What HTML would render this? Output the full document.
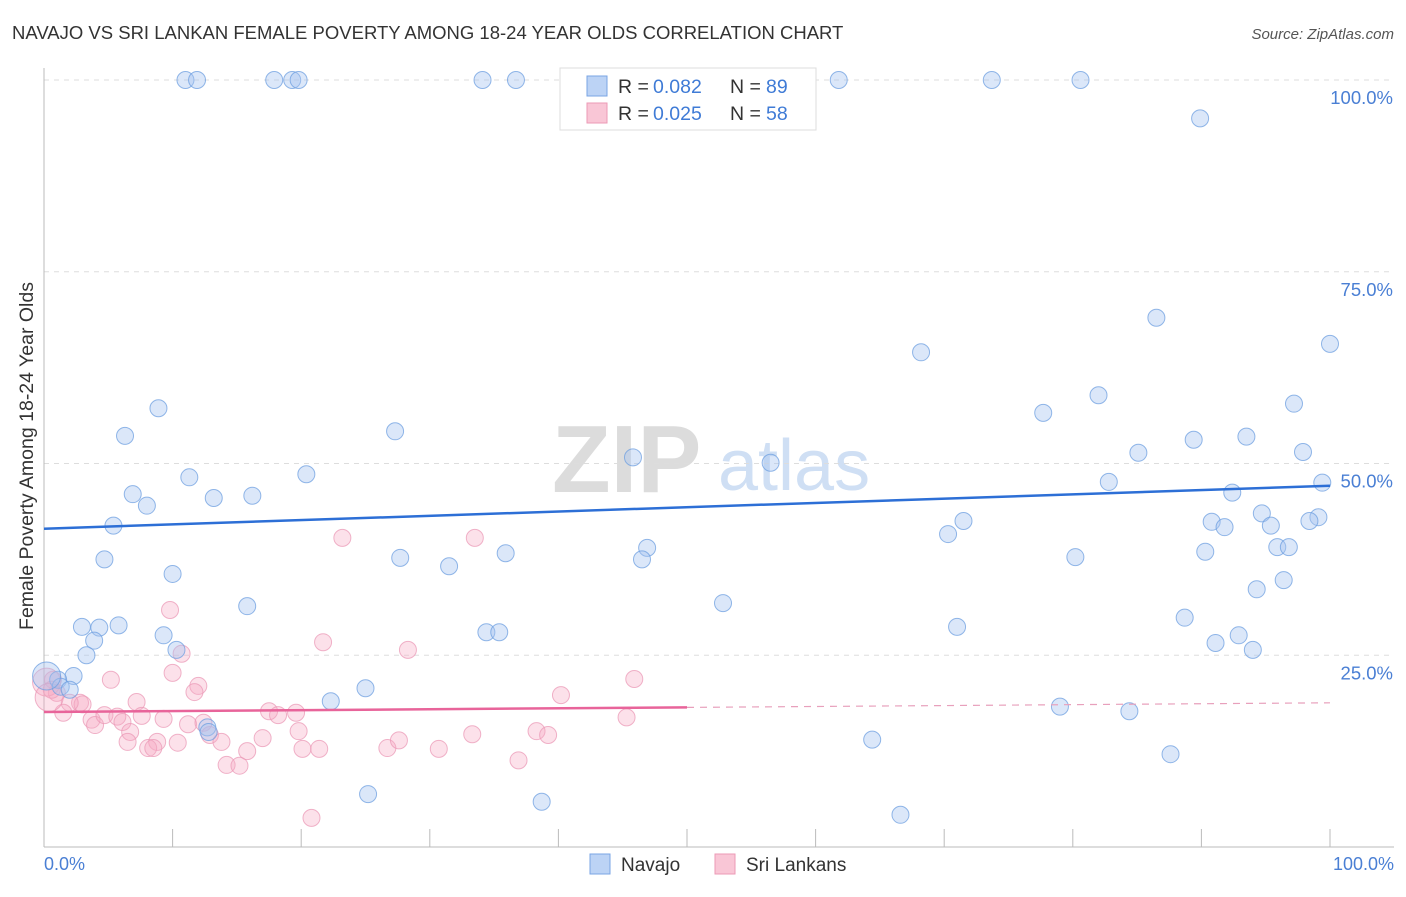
<!DOCTYPE html>
<html><head><meta charset="utf-8"><style>
body{margin:0;background:#fff;font-family:"Liberation Sans",sans-serif;}
svg text{font-family:"Liberation Sans",sans-serif;}
</style></head><body>
<svg id="chart" width="1406" height="892" xmlns="http://www.w3.org/2000/svg">
<text x="12" y="39" font-size="18.5" fill="#333">NAVAJO VS SRI LANKAN FEMALE POVERTY AMONG 18-24 YEAR OLDS CORRELATION CHART</text>
<text x="1394" y="39" font-size="15" fill="#555" text-anchor="end" font-style="italic">Source: ZipAtlas.com</text>
<g>
<text x="552" y="492" font-size="96" fill="#dcdcdc" font-family="Liberation Serif" font-weight="bold">ZIP</text>
<text x="718" y="490" font-size="72" fill="#cfdff4">atlas</text>
</g>
<g id="grid"></g>
<g id="pinkG"></g>
<g id="blueG"></g>
<g id="lines"></g>
<text x="27" y="456" font-size="19.5" fill="#333" transform="rotate(-90 27 456)" text-anchor="middle" dy="6">Female Poverty Among 18-24 Year Olds</text>
<text x="44" y="870" font-size="18" fill="#4a7fd4">0.0%</text>
<text x="1394" y="870" font-size="18" fill="#4a7fd4" text-anchor="end">100.0%</text>
<g>
<rect x="560" y="68" width="256" height="62" fill="#fff" stroke="#ddd"/>
<rect x="587" y="76" width="20" height="20" fill="#bcd3f5" stroke="#7aa5e4"/>
<rect x="587" y="103" width="20" height="20" fill="#f9c6d6" stroke="#ec9ab6"/>
<text x="618" y="93" font-size="19.5" fill="#333">R = </text>
<text x="653" y="93" font-size="19.5" fill="#3f7bd6">0.082</text>
<text x="730" y="93" font-size="19.5" fill="#333">N = </text>
<text x="766" y="93" font-size="19.5" fill="#3f7bd6">89</text>
<text x="618" y="120" font-size="19.5" fill="#333">R = </text>
<text x="653" y="120" font-size="19.5" fill="#3f7bd6">0.025</text>
<text x="730" y="120" font-size="19.5" fill="#333">N = </text>
<text x="766" y="120" font-size="19.5" fill="#3f7bd6">58</text>
</g>
<g>
<rect x="590" y="854" width="20" height="20" fill="#bcd3f5" stroke="#7aa5e4"/>
<text x="621" y="871" font-size="19" fill="#333">Navajo</text>
<rect x="715" y="854" width="20" height="20" fill="#f9c6d6" stroke="#ec9ab6"/>
<text x="746" y="871" font-size="19" fill="#333">Sri Lankans</text>
</g>
</svg>
<script>
const blueX=[11.0,11.9,17.9,19.3,19.8,34.1,36.7,61.8,73.7,80.6,89.9,86.5,100,68.2,77.7,82,97.2,8.9,6.3,27.3,89.4,93.5,85.1,97.9,45.8,56.5,20.4,11.3,82.8,99.4,6.9,13.2,16.2,8,92.4,94.7,71.5,90.8,91.8,95.4,99.1,98.4,5.4,70.3,95.9,96.8,46.9,35.9,90.3,80.2,27.7,4.7,46.5,31.5,10,96.4,94.3,15.8,52.8,88.7,2.95,4.3,5.8,71,9.3,34.4,35.4,92.9,3.9,91.1,10.3,94,3.3,2.3,1.1,1.3,2,22.3,25,79,84.4,12.7,12.8,64.4,87.6,25.2,38.7,66.6,0.2];
const blueY=[100,100,100,100,100,100,100,100,100,100,95.0,69.0,65.6,64.5,56.6,58.9,57.8,57.2,53.6,54.2,53.1,53.5,51.4,51.5,50.8,50.1,48.6,48.2,47.6,47.5,46.0,45.5,45.8,44.5,46.2,43.5,42.5,42.4,41.7,41.9,43.0,42.5,41.9,40.8,39.1,39.1,39.0,38.3,38.5,37.8,37.7,37.5,37.5,36.6,35.6,34.8,33.6,31.4,31.8,29.9,28.7,28.6,28.9,28.7,27.6,28.0,28.0,27.6,26.9,26.6,25.7,25.7,25.0,22.3,21.8,20.9,20.5,19.0,20.7,18.3,17.7,15.6,15.0,14.0,12.1,6.9,5.9,4.2,22.3];
const pinkX=[9.8,21.7,28.3,10.7,10,5.2,12,11.7,0.7,1.0,2.8,3.0,2.0,1.5,7.2,7.6,3.7,3.97,4.7,5.7,6.1,9.3,11.2,12.4,19.6,17.5,18.2,6.7,6.5,8.8,8.1,8.5,10.4,12.9,13.8,15.8,17,14.2,15.2,19.8,20.1,21.4,26.7,27.6,20.8,23.2,33.5,45.9,40.2,45.3,33.3,38.3,39.2,30.7,36.9,0.2,0.6,0.4];
const pinkY=[30.9,26.7,25.7,25.2,22.7,21.8,21.0,20.2,21.8,20.1,18.8,18.6,18.8,17.5,18.9,17.1,16.6,15.9,17.2,17.0,16.3,16.7,16.0,16.2,17.5,17.7,17.2,15.0,13.7,13.7,12.9,12.9,13.6,14.6,13.7,12.5,14.2,10.7,10.6,15.1,12.8,12.8,12.9,13.9,3.8,40.3,40.3,21.9,19.8,16.9,14.7,15.1,14.6,12.8,11.3,21.5,20.5,19.5];
const blueTrend=[41.5,47.1];
const pinkTrend=[17.6,18.8];
const pinkSolidEnd=50;
const yTicks=[25,50,75,100];
const yTickLabels=["25.0%","50.0%","75.0%","100.0%"];
const xTicks=[0,10,20,30,40,50,60,70,80,90,100];
const NS="http://www.w3.org/2000/svg";
const sx=v=>44+v*12.86, sy=v=>847-v*7.67;
function mk(tag,attrs,parent){const e=document.createElementNS(NS,tag);for(const k in attrs)e.setAttribute(k,attrs[k]);parent.appendChild(e);return e;}
const grid=document.getElementById('grid');
yTicks.forEach((t,i)=>{
 const l=mk('line',{x1:44,x2:1394,y1:sy(t),y2:sy(t),stroke:'#ddd','stroke-dasharray':'5,5'},grid);
 
 
 const tx=mk('text',{x:1393,y:sy(t)+24,'font-size':18.5,fill:'#4a7fd4','text-anchor':'end'},grid);
 tx.textContent=yTickLabels[i];
 
 
});
const ax=mk('line',{x1:44,x2:1394,y1:847,y2:847,stroke:'#bbb'},grid);


const ay=mk('line',{x1:44,x2:44,y1:68,y2:847,stroke:'#bbb'},grid);


xTicks.forEach(t=>{
 const l=mk('line',{x1:sx(t),x2:sx(t),y1:829,y2:847,stroke:'#bbb'},grid);
 
 
});
function pts(X,Y,g,fill,stroke,name){
 X.forEach((x,i)=>{
  const big=x<0.5;
  const c=mk('circle',{cx:sx(x),cy:sy(Y[i]),r:big?14:8.5,fill:fill,stroke:stroke,'stroke-width':1,'stroke-opacity':0.75},g);
  
  
 });
}
pts(pinkX,pinkY,document.getElementById('pinkG'),'rgba(246,170,196,0.35)','#eb9ab7','sri-lankan-point');
pts(blueX,blueY,document.getElementById('blueG'),'rgba(165,196,240,0.4)','#6d9fe0','navajo-point');
const lg=document.getElementById('lines');
const bl=mk('line',{x1:sx(0),y1:sy(blueTrend[0]),x2:sx(100),y2:sy(blueTrend[1]),stroke:'#2d6fd6','stroke-width':2.5},lg);


const pAt=x=>pinkTrend[0]+(pinkTrend[1]-pinkTrend[0])*x/100;
const pl=mk('line',{x1:sx(0),y1:sy(pAt(0)),x2:sx(pinkSolidEnd),y2:sy(pAt(pinkSolidEnd)),stroke:'#e8649a','stroke-width':2.5},lg);


const pd=mk('line',{x1:sx(pinkSolidEnd),y1:sy(pAt(pinkSolidEnd)),x2:sx(100),y2:sy(pAt(100)),stroke:'#e8a0bc','stroke-width':1.2,'stroke-dasharray':'7,6'},lg);


</script>
</body></html>
